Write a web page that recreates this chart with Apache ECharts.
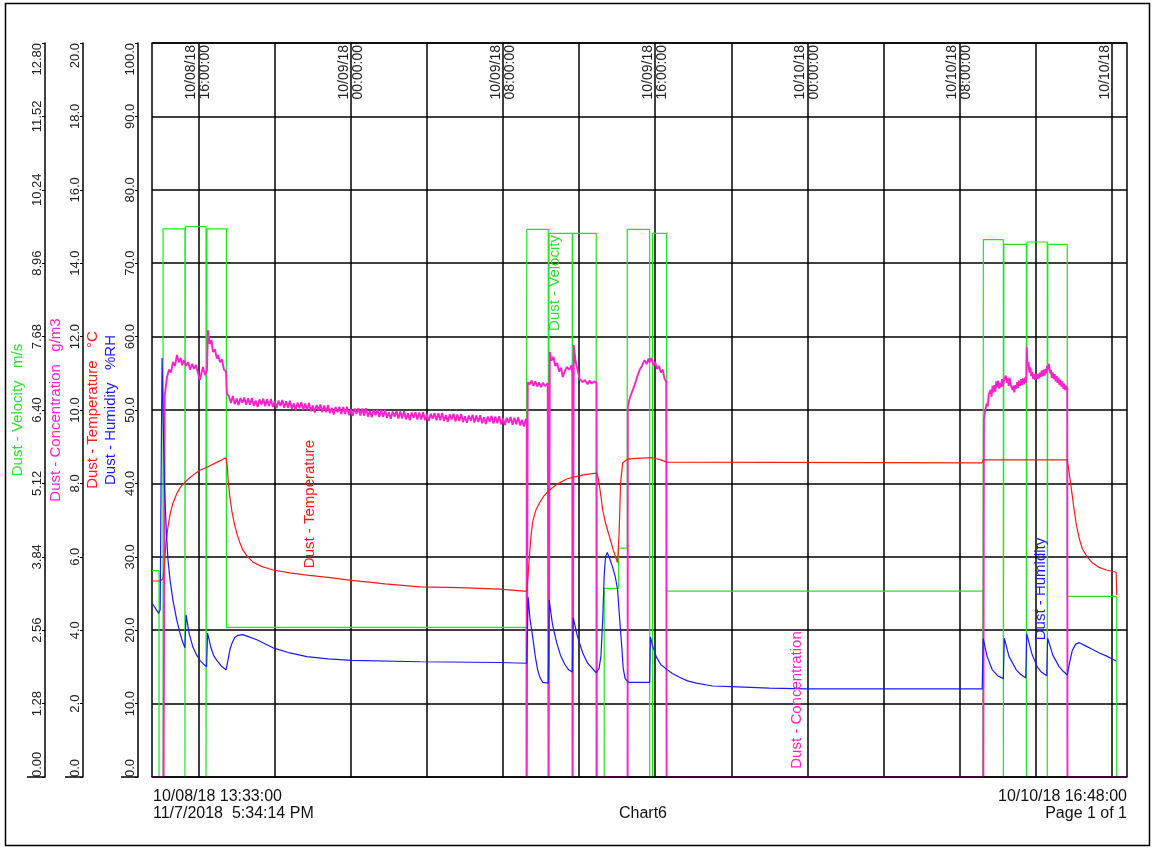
<!DOCTYPE html>
<html>
<head>
<meta charset="utf-8">
<title>Chart6</title>
<script src="https://cdn.jsdelivr.net/npm/echarts@6/dist/echarts.min.js"></script>
<style>
  html, body { margin: 0; padding: 0; background: #fff; }
  #chart { width: 1153px; height: 850px; }
</style>
</head>
<body>
<div id="chart"></div>
<script>
// x values are hours counted from 10/08/18 00:00:00
const timeStart = 13.55; // 10/08/18 13:33:00
const timeEnd = 64.8;    // 10/10/18 16:48:00

// vertical grid lines every 4 hours (plus both plot edges)
const gridHours = [13.55, 16, 20, 24, 28, 32, 36, 40, 44, 48, 52, 56, 60, 64, 64.8];
const dateLabelHours = [16, 24, 32, 40, 48, 56, 64];
const dateLabelTexts = [
  "10/08/18\n16:00:00", "10/09/18\n00:00:00", "10/09/18\n08:00:00", "10/09/18\n16:00:00",
  "10/10/18\n00:00:00", "10/10/18\n08:00:00", "10/10/18\n "
];

// Dust - Velocity (m/s)
const velocity = [
  [13.55, 3.60], [13.92, 3.60], [13.92, 0], [14.13, 0], [14.13, 9.56], [15.28, 9.56], [15.28, 0], [15.30, 0],
  [15.30, 9.60], [16.39, 9.60], [16.39, 0], [16.44, 0], [16.44, 9.56], [17.46, 9.56], [17.46, 2.61],
  [33.22, 2.61], [33.22, 0], [33.25, 0], [33.25, 9.55], [34.38, 9.55], [34.38, 0], [34.42, 0], [34.42, 9.48],
  [35.64, 9.48], [35.64, 0], [35.66, 0], [35.66, 9.48], [36.90, 9.48], [36.90, 0], [37.32, 0], [37.32, 3.29],
  [38.08, 3.29], [38.08, 3.99], [38.53, 3.99], [38.53, 9.55], [39.71, 9.55], [39.71, 0], [39.86, 0],
  [39.86, 9.48], [40.60, 9.48], [40.60, 3.24], [57.22, 3.24], [57.22, 0], [57.25, 0], [57.25, 9.37],
  [58.30, 9.37], [58.30, 0], [58.33, 0], [58.33, 9.29], [59.51, 9.29], [59.51, 0], [59.54, 0], [59.54, 9.33],
  [60.61, 9.33], [60.61, 0], [60.64, 0], [60.64, 9.29], [61.66, 9.29], [61.66, 3.15], [64.26, 3.15],
  [64.26, 0], [64.8, 0]
];

// Dust - Concentration (g/m3)
const concentration = [
  [13.55, 0], [14.16, 0], [14.22, 10.40], [14.34, 10.90], [14.45, 11.10], [14.55, 11.02], [14.65, 11.31],
  [14.76, 11.20], [14.86, 11.50], [14.96, 11.30], [15.06, 11.42], [15.13, 11.22], [15.24, 11.36], [15.34, 11.20],
  [15.45, 11.30], [15.55, 11.10], [15.66, 11.26], [15.76, 11.12], [15.86, 11.23], [15.97, 11.00], [16.07, 10.82],
  [16.17, 11.05], [16.23, 11.17], [16.34, 10.95], [16.44, 11.10], [16.49, 12.18], [16.58, 11.80], [16.68, 11.90],
  [16.75, 11.58], [16.86, 11.65], [16.96, 11.40], [17.02, 11.50], [17.13, 11.30], [17.23, 11.38], [17.33, 11.10],
  [17.44, 11.05], [17.49, 10.45],
  [17.6, 10.37], [17.7, 10.19], [17.8, 10.38], [17.9, 10.16], [18.0, 10.31], [18.1, 10.13], [18.2, 10.33],
  [18.3, 10.19], [18.4, 10.34], [18.5, 10.14], [18.6, 10.32], [18.7, 10.14], [18.8, 10.33], [18.9, 10.11],
  [19.0, 10.26], [19.1, 10.08], [19.2, 10.29], [19.3, 10.15], [19.4, 10.31], [19.5, 10.10], [19.6, 10.29],
  [19.7, 10.11], [19.8, 10.30], [19.9, 10.08], [20.0, 10.24], [20.1, 10.05], [20.2, 10.26], [20.3, 10.11],
  [20.4, 10.27], [20.5, 10.06], [20.6, 10.24], [20.7, 10.06], [20.8, 10.25], [20.9, 10.03], [21.0, 10.18],
  [21.1, 9.99], [21.2, 10.20], [21.3, 10.05], [21.4, 10.21], [21.5, 10.00], [21.6, 10.18], [21.7, 10.00],
  [21.8, 10.19], [21.9, 9.97], [22.0, 10.12], [22.1, 9.93], [22.2, 10.14], [22.3, 9.99], [22.4, 10.15],
  [22.5, 9.94], [22.6, 10.12], [22.7, 9.94], [22.8, 10.13], [22.9, 9.91], [23.0, 10.06], [23.1, 9.88],
  [23.2, 10.08], [23.3, 9.94], [23.4, 10.09], [23.5, 9.89], [23.6, 10.08], [23.7, 9.89], [23.8, 10.09],
  [23.9, 9.86], [24.0, 10.02], [24.1, 9.84], [24.2, 10.04], [24.3, 9.90], [24.4, 10.05], [24.5, 9.85],
  [24.6, 10.04], [24.7, 9.85], [24.8, 10.05], [24.9, 9.82], [25.0, 9.98], [25.1, 9.80], [25.2, 10.00],
  [25.3, 9.86], [25.4, 10.01], [25.5, 9.81], [25.6, 10.00], [25.7, 9.81], [25.8, 10.01], [25.9, 9.78],
  [26.0, 9.94], [26.1, 9.76], [26.2, 9.96], [26.3, 9.82], [26.4, 9.97], [26.5, 9.77], [26.6, 9.96],
  [26.7, 9.77], [26.8, 9.97], [26.9, 9.75], [27.0, 9.91], [27.1, 9.72], [27.2, 9.93], [27.3, 9.79],
  [27.4, 9.94], [27.5, 9.74], [27.6, 9.93], [27.7, 9.74], [27.8, 9.94], [27.9, 9.72], [28.0, 9.88],
  [28.1, 9.70], [28.2, 9.90], [28.3, 9.76], [28.4, 9.92], [28.5, 9.72], [28.6, 9.91], [28.7, 9.72],
  [28.8, 9.92], [28.9, 9.70], [29.0, 9.86], [29.1, 9.68], [29.2, 9.88], [29.3, 9.74], [29.4, 9.90],
  [29.5, 9.69], [29.6, 9.88], [29.7, 9.70], [29.8, 9.89], [29.9, 9.67], [30.0, 9.83], [30.1, 9.65],
  [30.2, 9.85], [30.3, 9.71], [30.4, 9.87], [30.5, 9.66], [30.6, 9.85], [30.7, 9.67], [30.8, 9.86],
  [30.9, 9.64], [31.0, 9.80], [31.1, 9.62], [31.2, 9.82], [31.3, 9.68], [31.4, 9.84], [31.5, 9.63],
  [31.6, 9.82], [31.7, 9.64], [31.8, 9.83], [31.9, 9.61], [32.0, 9.77], [32.1, 9.59], [32.2, 9.79],
  [32.3, 9.65], [32.4, 9.81], [32.5, 9.60], [32.6, 9.79], [32.7, 9.61], [32.8, 9.80], [32.9, 9.58],
  [33.0, 9.73], [33.1, 9.55], [33.2, 9.76], [33.25, 9.66], [33.25, 0], [33.30, 0],
  [33.30, 10.76], [33.40, 10.70], [33.50, 10.80], [33.60, 10.66], [33.70, 10.78], [33.80, 10.64], [33.90, 10.75],
  [34.00, 10.62], [34.10, 10.74], [34.20, 10.65], [34.35, 10.72], [34.40, 0], [34.44, 0],
  [34.46, 11.58], [34.55, 11.35], [34.65, 11.45], [34.75, 11.20], [34.85, 11.28], [34.95, 11.05], [35.05, 11.15],
  [35.14, 10.90], [35.25, 11.05], [35.35, 11.17], [35.50, 11.10], [35.60, 11.22], [35.65, 11.00], [35.66, 0],
  [35.70, 0], [35.72, 11.77], [35.82, 11.30], [35.92, 11.10], [36.02, 10.85], [36.19, 10.76], [36.30, 10.82],
  [36.45, 10.70], [36.55, 10.80], [36.66, 10.72], [36.80, 10.78], [36.92, 10.74], [36.93, 0], [38.55, 0],
  [38.56, 10.08], [38.65, 10.30], [38.75, 10.45], [38.92, 10.68], [39.05, 10.90], [39.18, 11.09], [39.30, 11.20],
  [39.44, 11.36], [39.55, 11.25], [39.65, 11.40], [39.71, 11.30], [39.80, 11.42], [39.90, 11.22], [40.00, 11.30],
  [40.10, 11.12], [40.20, 11.20], [40.30, 11.02], [40.40, 11.10], [40.49, 10.85], [40.58, 10.78], [40.60, 0],
  [57.25, 0], [57.28, 9.73], [57.33, 9.95], [57.38, 9.90], [57.43, 10.18], [57.48, 10.10], [57.53, 10.42],
  [57.58, 10.38], [57.63, 10.55], [57.68, 10.36], [57.73, 10.66], [57.78, 10.48], [57.83, 10.68], [57.88, 10.50],
  [57.93, 10.78], [57.98, 10.62], [58.03, 10.80], [58.08, 10.58], [58.13, 10.74], [58.18, 10.62], [58.23, 10.84],
  [58.28, 10.64], [58.33, 10.80], [58.38, 10.76], [58.43, 10.94], [58.48, 10.74], [58.53, 10.86], [58.58, 10.66],
  [58.63, 10.88], [58.68, 10.70], [58.73, 10.74], [58.78, 10.55], [58.83, 10.66], [58.88, 10.48], [58.93, 10.68],
  [58.98, 10.58], [59.03, 10.76], [59.08, 10.60], [59.13, 10.80], [59.18, 10.66], [59.23, 10.84], [59.28, 10.68],
  [59.33, 10.86], [59.38, 10.70], [59.43, 10.88], [59.48, 10.74], [59.51, 10.92], [59.53, 11.72], [59.57, 11.20],
  [59.62, 11.30], [59.67, 11.02], [59.72, 11.16], [59.77, 10.92], [59.82, 11.04], [59.87, 10.84], [59.92, 10.98],
  [59.97, 10.82], [60.02, 11.00], [60.07, 10.84], [60.12, 10.98], [60.17, 10.86], [60.22, 11.02], [60.27, 10.90],
  [60.32, 11.08], [60.37, 10.92], [60.42, 11.10], [60.47, 10.94], [60.52, 11.12], [60.56, 11.00], [60.60, 11.20],
  [60.65, 11.10], [60.70, 11.26], [60.75, 11.00], [60.80, 11.10], [60.85, 10.88], [60.90, 11.02], [60.95, 10.84],
  [61.00, 10.98], [61.05, 10.78], [61.10, 10.92], [61.15, 10.74], [61.20, 10.88], [61.25, 10.68], [61.30, 10.82],
  [61.35, 10.64], [61.40, 10.78], [61.45, 10.58], [61.50, 10.72], [61.55, 10.54], [61.60, 10.66], [61.66, 10.58],
  [61.67, 0], [64.8, 0]
];

// Dust - Temperature (°C)
const temperature = [
  [13.55, 26.7], [13.98, 26.7], [14.13, 27.0], [14.20, 29.0], [14.28, 31.8], [14.39, 34.1], [14.50, 35.8],
  [14.65, 37.3], [14.85, 38.6], [15.05, 39.5], [15.30, 40.2], [15.55, 40.8], [15.80, 41.3], [16.07, 41.8],
  [16.44, 42.2], [16.90, 42.8], [17.44, 43.5], [17.50, 42.5], [17.56, 40.2], [17.65, 38.0], [17.75, 36.2],
  [17.88, 34.5], [18.01, 33.2], [18.17, 31.9], [18.33, 30.9], [18.58, 30.0], [18.85, 29.3], [19.30, 28.7],
  [19.91, 28.2], [20.8, 27.8], [21.69, 27.5], [22.8, 27.2], [24.05, 26.8], [25.8, 26.3], [27.63, 25.9],
  [29.7, 25.8], [31.83, 25.6], [33.25, 25.3], [33.32, 27.5], [33.40, 30.5], [33.48, 33.0], [33.56, 34.8],
  [33.72, 36.3], [33.93, 37.4], [34.15, 38.3], [34.45, 39.1], [34.85, 39.9], [35.35, 40.6], [35.77, 40.9],
  [36.30, 41.2], [36.92, 41.4], [37.00, 40.8], [37.08, 39.5], [37.16, 38.0], [37.24, 36.4], [37.40, 34.5],
  [37.60, 32.7], [37.80, 30.9], [38.02, 29.2], [38.10, 33.0], [38.18, 40.0], [38.29, 42.8], [38.55, 43.3],
  [39.00, 43.4], [39.86, 43.5], [40.30, 43.2], [40.60, 42.9], [57.19, 42.8], [57.25, 43.2], [61.66, 43.2],
  [61.75, 41.6], [61.87, 39.4], [62.00, 36.8], [62.13, 34.5], [62.28, 32.6], [62.45, 31.1], [62.70, 30.0],
  [62.97, 29.2], [63.30, 28.6], [63.71, 28.2], [64.23, 27.9], [64.26, 24.8]
];

// Dust - Humidity (%RH)
const humidity = [
  [13.55, 23.7], [13.75, 22.9], [13.90, 22.3], [13.98, 22.8], [14.04, 45.0], [14.08, 57.1], [14.13, 50.0],
  [14.20, 40.0], [14.30, 33.6], [14.39, 29.6], [14.50, 26.8], [14.65, 24.1], [14.85, 21.4], [15.02, 19.6],
  [15.15, 18.5], [15.28, 17.6], [15.34, 22.1], [15.50, 19.6], [15.70, 17.7], [15.90, 16.6], [16.07, 15.9],
  [16.25, 15.4], [16.42, 15.0], [16.47, 19.6], [16.65, 17.6], [16.80, 16.5], [16.96, 15.9], [17.20, 15.1],
  [17.44, 14.6], [17.55, 16.0], [17.65, 17.4], [17.75, 18.2], [17.90, 19.0], [18.07, 19.3], [18.30, 19.4],
  [18.54, 19.2], [19.06, 18.7], [19.91, 17.6], [20.8, 16.9], [21.69, 16.4], [22.8, 16.1], [24.05, 15.9],
  [27.63, 15.7], [31.83, 15.6], [33.25, 15.5], [33.32, 24.5], [33.42, 21.5], [33.56, 19.1], [33.70, 16.4],
  [33.82, 14.6], [33.95, 13.5], [34.09, 12.9], [34.38, 12.8], [34.43, 24.1], [34.60, 20.8], [34.82, 18.3],
  [35.02, 16.6], [35.24, 15.4], [35.45, 14.6], [35.64, 14.3], [35.69, 21.7], [35.90, 19.3], [36.19, 16.9],
  [36.45, 15.5], [36.66, 14.9], [36.90, 14.2], [37.05, 14.8], [37.15, 16.5], [37.24, 21.4], [37.32, 27.5],
  [37.39, 30.0], [37.48, 30.6], [37.60, 29.8], [37.76, 28.6], [37.90, 27.3], [38.02, 25.6], [38.12, 22.0],
  [38.23, 18.2], [38.32, 14.8], [38.42, 13.4], [38.60, 12.9], [39.71, 12.9], [39.75, 19.1], [39.85, 18.0],
  [40.07, 16.3], [40.30, 15.3], [40.60, 14.7], [40.90, 14.1], [41.28, 13.6], [41.70, 13.1], [42.17, 12.8],
  [43.01, 12.4], [44.01, 12.3], [46.0, 12.1], [47.95, 12.0], [51.79, 12.0], [57.19, 12.0], [57.24, 18.9],
  [57.45, 16.4], [57.72, 14.6], [58.00, 13.8], [58.30, 13.4], [58.35, 18.9], [58.60, 16.4], [58.98, 14.6],
  [59.20, 14.0], [59.48, 13.5], [59.53, 19.5], [59.80, 16.8], [60.08, 15.0], [60.30, 14.3], [60.58, 13.8],
  [60.63, 18.9], [60.90, 16.6], [61.24, 15.0], [61.45, 14.4], [61.66, 13.9], [61.80, 15.8], [61.92, 17.2],
  [62.10, 18.1], [62.29, 18.3], [62.60, 17.9], [62.97, 17.4], [63.35, 16.9], [63.71, 16.5], [64.0, 16.1],
  [64.23, 15.8]
];

const FONT = '"Liberation Sans", Arial, sans-serif';
const BLACK = "#000";
const GREEN = "#1ee61e";
const MAGENTA = "#ff22cc";
const RED = "#ff1a1a";
const BLUE = "#1a1aff";

function leftAxis(opts) {
  return {
    type: "value",
    position: "left",
    min: opts.min,
    max: opts.max,
    interval: opts.interval,
    offset: opts.offset,
    name: opts.name,
    nameLocation: "middle",
    nameGap: opts.nameGap,
    nameRotate: 90,
    nameMoveOverlap: false,
    nameTextStyle: { color: opts.nameColor, fontSize: 15, fontFamily: FONT },
    axisLine: { show: opts.showAxis !== false, onZero: false, lineStyle: { color: BLACK, width: 1.5 } },
    axisTick: { show: opts.showAxis !== false, length: 3, lineStyle: { color: BLACK, width: 1 } },
    axisLabel: {
      show: opts.showAxis !== false,
      rotate: 90,
      margin: 1,
      fontSize: 13,
      fontFamily: FONT,
      color: "#222",
      alignMinLabel: "left",
      alignMaxLabel: "right",
      formatter: function (v) { return v.toFixed(opts.digits); },
    },
    splitLine: { show: !!opts.split, lineStyle: { color: BLACK, width: 1.5 } },
  };
}

function lineSeries(name, data, color, yAxisIndex, width) {
  return {
    name: name,
    type: "line",
    xAxisIndex: 0,
    yAxisIndex: yAxisIndex,
    data: data,
    symbol: "none",
    showSymbol: false,
    animation: false,
    silent: true,
    lineStyle: { color: color, width: width || 1.2 },
    itemStyle: { color: color },
  };
}

function vText(x, y, text, color) {
  return {
    type: "text", x: x, y: y, rotation: Math.PI / 2, z: 100,
    style: { text: text, fill: color, font: "15px " + FONT, align: "center", verticalAlign: "middle" },
  };
}

function hText(x, y, text, align) {
  return {
    type: "text", x: x, y: y, z: 100,
    style: { text: text, fill: "#111", font: "16px " + FONT, align: align, verticalAlign: "middle" },
  };
}

function hLine(x1, x2, y) {
  return { type: "line", z: 100, shape: { x1: x1, y1: y, x2: x2, y2: y }, style: { stroke: BLACK, lineWidth: 1.5 } };
}

const chart = echarts.init(document.getElementById("chart"));

const option = {
  animation: false,
  backgroundColor: "#fff",
  textStyle: { fontFamily: FONT },
  grid: { left: 152, right: 26, top: 43, bottom: 73, outerBoundsMode: "none" },
  xAxis: [
    {
      type: "value", min: timeStart, max: timeEnd, position: "bottom", z: 10,
      axisLine: { show: true, onZero: false, lineStyle: { color: BLACK, width: 1.5 } },
      axisTick: { show: false }, axisLabel: { show: false }, splitLine: { show: false },
    },
    {
      type: "value", min: timeStart, max: timeEnd, position: "top",
      axisLine: { show: true, onZero: false, lineStyle: { color: BLACK, width: 1.5 } },
      axisTick: { show: false, customValues: gridHours },
      axisLabel: {
        show: true, inside: true, rotate: -90, margin: 2,
        customValues: dateLabelHours,
        fontSize: 14, lineHeight: 14, fontFamily: FONT, color: "#222",
        formatter: function (v) {
          const i = dateLabelHours.indexOf(Math.round(v));
          return i >= 0 ? dateLabelTexts[i] : "";
        },
      },
      splitLine: { show: true, lineStyle: { color: BLACK, width: 1.5 } },
    },
  ],
  yAxis: [
    leftAxis({ min: 0, max: 100, interval: 10, offset: 14, digits: 1, split: true,
      name: "Dust - Humidity   %RH", nameColor: BLUE, nameGap: 20 }),
    leftAxis({ min: 0, max: 100, interval: 10, offset: 14, digits: 1, showAxis: false,
      name: "Dust - Temperature   °C", nameColor: RED, nameGap: 38 }),
    leftAxis({ min: 0, max: 20, interval: 2, offset: 69, digits: 1,
      name: "Dust - Concentration   g/m3", nameColor: MAGENTA, nameGap: 20 }),
    leftAxis({ min: 0, max: 12.8, interval: 1.28, offset: 107, digits: 2,
      name: "Dust - Velocity   m/s", nameColor: "#33dd33", nameGap: 20 }),
  ],
  series: [
    lineSeries("Dust - Velocity", velocity, GREEN, 3),
    lineSeries("Dust - Concentration", concentration, MAGENTA, 2, 1.9),
    lineSeries("Dust - Temperature", temperature, RED, 0),
    lineSeries("Dust - Humidity", humidity, BLUE, 0),
  ],
  graphic: [
    { type: "rect", z: 100, shape: { x: 5.5, y: 3.5, width: 1144, height: 842 },
      style: { fill: "none", stroke: BLACK, lineWidth: 1.5 } },
    hLine(27, 45, 777), hLine(65, 83, 777), hLine(121, 138, 777),
    vText(310, 504, "Dust - Temperature", RED),
    vText(555, 283, "Dust - Velocity", "#33dd33"),
    vText(797, 700, "Dust - Concentration", MAGENTA),
    vText(1041, 589, "Dust - Humidity", BLUE),
    hText(153, 797, "10/08/18 13:33:00", "left"),
    hText(153, 814, "11/7/2018  5:34:14 PM", "left"),
    hText(643, 814, "Chart6", "center"),
    hText(1127, 797, "10/10/18 16:48:00", "right"),
    hText(1127, 814, "Page 1 of 1", "right"),
  ],
};

chart.setOption(option);
window.addEventListener("resize", function () { chart.resize(); });
</script>
</body>
</html>
